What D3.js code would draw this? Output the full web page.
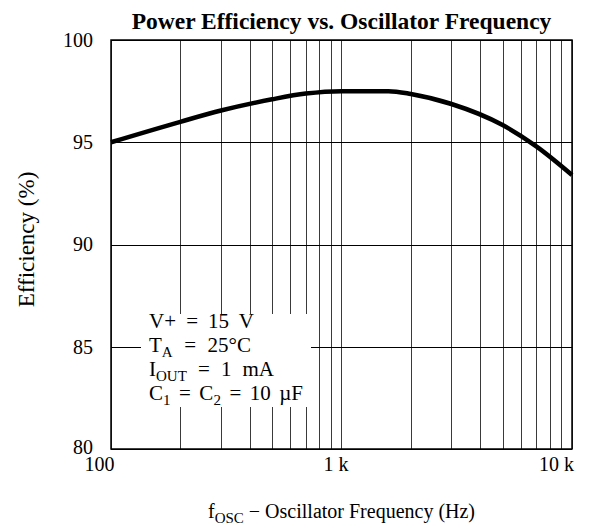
<!DOCTYPE html>
<html>
<head>
<meta charset="utf-8">
<script src="https://cdn.jsdelivr.net/npm/d3@7"></script>
<style>
  html, body { margin: 0; padding: 0; background: #fff; }
  svg { display: block; font-family: "Liberation Serif", "Times New Roman", serif; }
</style>
</head>
<body>
<svg id="chart" width="607" height="529"></svg>
<script>
(function () {
// ---- data ----
const freqHz = [100, 200, 300, 500, 700, 1000, 1600, 2000, 3000, 5000, 7000, 10000];
const efficiencyPct = [95.0, 96.0, 96.55, 97.1, 97.38, 97.5, 97.5, 97.36, 96.87, 95.84, 94.8, 93.4];
const xTickValues = [100, 1000, 10000];
const xTickLabels = ["100", "1 k", "10 k"];
const yTickValues = [80, 85, 90, 95, 100];
const xGridValues = [100,200,300,400,500,600,700,800,900,1000,2000,3000,4000,5000,6000,7000,8000,9000,10000];
const conditionLines = [
  [["V+ = 15 V", null]],
  [["T", null], ["A", "sub"], [" = 25°C", null]],
  [["I", null], ["OUT", "sub"], [" = 1 mA", null]],
  [["C", null], ["1", "sub"], [" = C", null], ["2", "sub"], [" = 10 µF", null]]
];
const conditionWidths = [105, 102, 125, 154];

// ---- layout ----
const svg = d3.select("#chart");
const pL = 111, pR = 572, pT = 40, pB = 449;

const x = d3.scaleLog().domain([100, 10000]).range([pL, pR]);
const y = d3.scaleLinear().domain([80, 100]).range([pB, pT]);

// gridlines
const grid = svg.append("g");
grid.selectAll("line.v").data(xGridValues).join("line")
  .attr("x1", d => Math.round(x(d)) + 0.5).attr("x2", d => Math.round(x(d)) + 0.5)
  .attr("y1", pT).attr("y2", pB)
  .attr("stroke", "#3a3a3a").attr("stroke-width", 1);
grid.selectAll("line.h").data(yTickValues).join("line")
  .attr("x1", pL).attr("x2", pR)
  .attr("y1", d => Math.round(y(d)) + 0.5).attr("y2", d => Math.round(y(d)) + 0.5)
  .attr("stroke", "#000").attr("stroke-width", 1);

// frame
svg.append("rect")
  .attr("x", pL).attr("y", pT).attr("width", pR - pL).attr("height", pB - pT)
  .attr("fill", "none").attr("stroke", "#000").attr("stroke-width", 1.5);

// conditions box (white background hides gridlines)
const boxX = pL + 30, boxY = pT + 274;
svg.append("rect")
  .attr("x", boxX).attr("y", boxY).attr("width", 170).attr("height", 93)
  .attr("fill", "#fff");

const condText = svg.append("g").attr("font-size", 21).attr("fill", "#000");
conditionLines.forEach((parts, i) => {
  const t = condText.append("text")
    .attr("x", boxX + 8)
    .attr("y", boxY + 14 + i * 24)
    .attr("xml:space", "preserve");
  let prevSub = false;
  parts.forEach(([s, kind]) => {
    if (kind === "sub") {
      t.append("tspan").attr("font-size", 15).attr("dy", 5).text(s);
      prevSub = true;
    } else {
      const ts = t.append("tspan").text(s);
      if (prevSub) ts.attr("dy", -5);
      prevSub = false;
    }
  });
  // widen only the word gaps so the line spans the reference width
  const nSpaces = parts.map(p => p[0]).join("").split(" ").length - 1;
  const natural = t.node().getComputedTextLength();
  if (nSpaces > 0 && natural > 0) {
    const extra = Math.max(0, (conditionWidths[i] - natural) / nSpaces);
    t.style("word-spacing", extra + "px");
  }
});

// curve
const line = d3.line()
  .x((d, i) => x(freqHz[i]))
  .y(d => y(d))
  .curve(d3.curveMonotoneX);
svg.append("path")
  .datum(efficiencyPct)
  .attr("d", line)
  .attr("fill", "none")
  .attr("stroke", "#000")
  .attr("stroke-width", 4.5);

// axes labels (ticks via d3 axes, lines removed)
const yAxis = svg.append("g")
  .attr("transform", `translate(${pL},0)`)
  .call(d3.axisLeft(y).tickValues(yTickValues).tickSize(0).tickPadding(18).tickFormat(d3.format("d")));
yAxis.select(".domain").remove();
yAxis.selectAll("text").attr("font-size", 20).attr("font-family", "Liberation Serif, serif").attr("fill", "#000")
  .attr("dy", d => d === 80 ? "0.2em" : "0.32em");

const xAxis = svg.append("g")
  .attr("transform", `translate(0,${pB})`)
  .call(d3.axisBottom(x).tickValues(xTickValues).tickSize(0).tickPadding(8)
    .tickFormat((d, i) => xTickLabels[i]));
xAxis.select(".domain").remove();
xAxis.selectAll("text").attr("font-size", 20).attr("font-family", "Liberation Serif, serif").attr("fill", "#000")
  .attr("dx", (d, i) => [-12, -6, -16][i]);

// title
svg.append("text")
  .attr("x", (pL + pR) / 2).attr("y", 29)
  .attr("text-anchor", "middle").attr("font-weight", "bold").attr("font-size", 23.5)
  .text("Power Efficiency vs. Oscillator Frequency");

// y title
svg.append("text")
  .attr("transform", `translate(34,${(pT + pB) / 2 - 5}) rotate(-90)`)
  .attr("text-anchor", "middle").attr("font-size", 23)
  .text("Efficiency (%)");

// x title
const xt = svg.append("text")
  .attr("x", (pL + pR) / 2).attr("y", 518)
  .attr("text-anchor", "middle").attr("font-size", 20);
xt.append("tspan").text("f");
xt.append("tspan").attr("font-size", 15).attr("dy", 5).text("OSC");
xt.append("tspan").attr("dy", -5).text(" − Oscillator Frequency (Hz)");
})();
</script>
</body>
</html>
